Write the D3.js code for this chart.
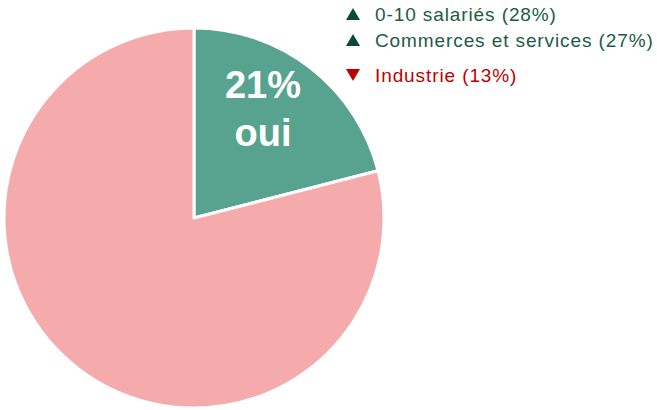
<!DOCTYPE html>
<html>
<head>
  <meta charset="utf-8" />
  <script src="https://d3js.org/d3.v7.min.js"></script>
  <style>
    body { margin: 0; padding: 0; background-color: #ffffff; }
    text { font-family: "Liberation Sans", Arial, sans-serif; }
  </style>
</head>
<body>
  <svg id="chart" width="657" height="410"></svg>
  <script>
    // slices (percent)
    const sliceLabels = ["oui", "non"];
    const sliceValues = [21, 79];
    const sliceColors = ["#58a38f", "#f5aaab"];

    // legend notes
    const noteLabels = ["0-10 salariés (28%)", "Commerces et services (27%)", "Industrie (13%)"];
    const noteDirections = ["up", "up", "down"];
    const noteColors = { up: "#1d5a48", down: "#c00000" };

    const svg = d3.select("#chart");
    const cx = 194, cy = 218, radius = 190;

    const pie = d3.pie().sort(null).value(d => d.value);
    const arc = d3.arc().innerRadius(0).outerRadius(radius);

    const data = sliceLabels.map((l, i) => ({ label: l, value: sliceValues[i], color: sliceColors[i] }));

    const g = svg.append("g").attr("transform", `translate(${cx},${cy})`);

    g.selectAll("path")
      .data(pie(data))
      .enter()
      .append("path")
      .attr("d", arc)
      .attr("fill", d => d.data.color)
      .attr("stroke", "#ffffff")
      .attr("stroke-width", 3)
      .attr("stroke-linejoin", "round");

    // big label on the "oui" slice
    const first = pie(data)[0];
    const labelX = 69;
    g.append("text")
      .attr("x", labelX)
      .attr("y", -120)
      .attr("text-anchor", "middle")
      .attr("fill", "#ffffff")
      .style("font-size", "38px")
      .style("font-weight", "bold")
      .text(first.data.value + "%");
    g.append("text")
      .attr("x", labelX)
      .attr("y", -72)
      .attr("text-anchor", "middle")
      .attr("fill", "#ffffff")
      .style("font-size", "38px")
      .style("font-weight", "bold")
      .text(first.data.label);

    // legend with arrows
    const y = d3.scaleOrdinal().domain(noteLabels).range([21, 47, 82]);
    const leg = svg.append("g");

    leg.selectAll("path")
      .data(noteLabels)
      .enter()
      .append("path")
      .attr("d", (d, i) => noteDirections[i] === "up"
        ? "M-7,0 L7,0 L0,-12 Z"
        : "M-7,-12 L7,-12 L0,0 Z")
      .attr("transform", d => `translate(353,${y(d) - 1})`)
      .attr("fill", (d, i) => noteDirections[i] === "up" ? "#0b4a38" : "#c00000");

    leg.selectAll("text")
      .data(noteLabels)
      .enter()
      .append("text")
      .attr("x", 375)
      .attr("y", d => y(d))
      .attr("fill", (d, i) => noteColors[noteDirections[i]])
      .style("font-size", "19px")
      .style("letter-spacing", "0.9px")
      .text(d => d);
  </script>
</body>
</html>
